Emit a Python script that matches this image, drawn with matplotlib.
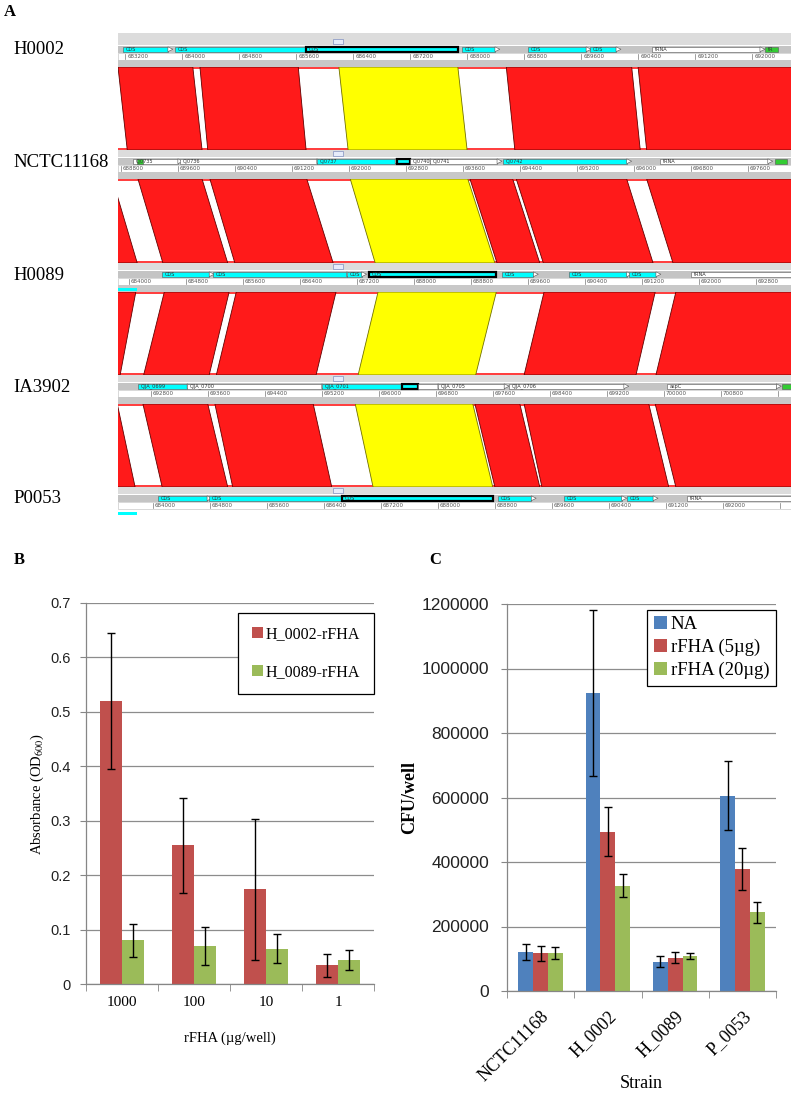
import matplotlib
matplotlib.use("Agg")
import matplotlib.pyplot as plt
from matplotlib.patches import Polygon, Rectangle
import numpy as np

plt.rcParams['mathtext.fontset'] = 'stix'
SERIF = 'Liberation Serif'
SANS = 'Liberation Sans'

W, H = 794, 1095

# ---------------- panel A data (ACT comparison around the FHA gene) ----------------
genomes = ["H0002", "NCTC11168", "H0089", "IA3902", "P0053"]
win_start = [683100, 688760, 683850, 692340, 683510]
win_len = 9446

# features: (start, end, kind, label)
feat_H0002 = [(683170, 683800, "cds", "CDS"), (683900, 685740, "cds", "CDS"),
              (685740, 687870, "fha", "CDS"), (687930, 688390, "cds", "CDS"),
              (688850, 689670, "cds", "CDS"), (689720, 690090, "cds", "CDS"),
              (690600, 692110, "orf", "tRNA"), (692180, 692360, "rna", "tR")]
feat_NCTC = [(688970, 689600, "orf", "Cj0735"), (689030, 689110, "rna", ""),
             (689630, 691550, "orf", "Cj0736"), (691550, 692650, "cds", "Cj0737"),
             (692680, 692860, "fha", ""), (692860, 693140, "orf", "Cj0740"),
             (693140, 694080, "orf", "Cj0741"), (694160, 695900, "cds", "Cj0742"),
             (696370, 697880, "orf", "tRNA"), (697980, 698150, "rna", "")]
feat_H0089 = [(684470, 685130, "cds", "CDS"), (685180, 687060, "cds", "CDS"),
              (687060, 687270, "cds", "CDS"), (687370, 689160, "fha", "CDS"),
              (689240, 689680, "cds", "CDS"), (690180, 690990, "cds", "CDS"),
              (691020, 691400, "cds", "CDS"), (691890, 693500, "orf", "tRNA")]
feat_IA3902 = [(692620, 693310, "cds", "CJJA_0699"), (693310, 695200, "orf", "CJJA_0700"),
               (695200, 696330, "cds", "CJJA_0701"), (696330, 696550, "fha", ""),
               (696550, 696830, "orf", ""), (696830, 697760, "orf", "CJJA_0705"),
               (697830, 699440, "orf", "CJJA_0706"), (700050, 701580, "orf", "aspC"),
               (701660, 701900, "rna", "")]
feat_P0053 = [(684070, 684760, "cds", "CDS"), (684790, 686650, "cds", "CDS"),
              (686650, 688770, "fha", "CDS"), (688840, 689310, "cds", "CDS"),
              (689770, 690580, "cds", "CDS"), (690650, 691020, "cds", "CDS"),
              (691500, 693100, "orf", "tRNA")]
features = [feat_H0002, feat_NCTC, feat_H0089, feat_IA3902, feat_P0053]
extra_cds = [None, None, (683600, 684110), None, (683300, 683780)]

# matches: (kind, top_start, top_end, bottom_start, bottom_end)
comp_1 = [("R", 683100, 684150, 688890, 689940), ("R", 684250, 685630, 690020, 691400),
          ("Y", 686200, 687870, 691990, 693660), ("R", 688550, 690310, 694330, 696090),
          ("R", 690400, 692700, 696180, 698480)]
comp_2 = [("R", 687900, 688680, 683350, 684120), ("R", 689040, 689940, 684480, 685390),
          ("R", 690050, 691410, 685490, 686870), ("Y", 692020, 693670, 687460, 689140),
          ("R", 693700, 694300, 689170, 689770), ("R", 694350, 695900, 689820, 691360),
          ("R", 696180, 698500, 691640, 693960)]
comp_3 = [("R", 683300, 684100, 691700, 692370), ("R", 684500, 685410, 692700, 693620),
          ("R", 685510, 686910, 693720, 695120), ("Y", 687500, 689160, 695710, 697360),
          ("R", 689830, 691390, 698040, 699610), ("R", 691680, 694000, 699890, 702210)]
comp_4 = [("R", 691500, 692330, 682700, 683750), ("R", 692690, 693600, 684130, 685050),
          ("R", 693700, 695080, 685120, 686510), ("Y", 695670, 697320, 687090, 688770),
          ("R", 697350, 697980, 688800, 689430), ("R", 698040, 699790, 689460, 691240),
          ("R", 699880, 702210, 691340, 693670)]
comparisons = [comp_1, comp_2, comp_3, comp_4]

# ---------------- panel B data ----------------
b_cats = ["1000", "100", "10", "1"]
b_h0002 = [0.52, 0.255, 0.174, 0.034]
b_h0002_err = [0.125, 0.087, 0.129, 0.021]
b_h0089 = [0.080, 0.069, 0.065, 0.044]
b_h0089_err = [0.030, 0.035, 0.026, 0.019]

# ---------------- panel C data ----------------
c_cats = ["NCTC11168", "H_0002", "H_0089", "P_0053"]
c_na = [120000, 923000, 91000, 606000]
c_na_err = [25000, 257000, 18000, 106000]
c_5 = [117000, 494000, 103000, 378000]
c_5_err = [23000, 75000, 17000, 66000]
c_20 = [117000, 326000, 109000, 244000]
c_20_err = [19000, 36000, 10000, 32500]

RED = '#c0504d'
GREEN = '#9bbb59'
BLUE = '#4f81bd'

fig = plt.figure(figsize=(W / 100, H / 100), dpi=100)

# ---------------- panel A ----------------
track_y = [46, 158, 271, 383, 495]
axA = fig.add_axes([118 / W, 1 - 520 / H, 673 / W, 495 / H])
axA.set_xlim(0, win_len / 1000)
axA.set_ylim(520, 25)
axA.axis('off')

def rel(bp, g):
    return (bp - win_start[g]) / 1000.0

fill = {"R": '#ff1a1a', "Y": '#ffff00'}
edge = {"R": '#600000', "Y": '#707000'}
for j, comp in enumerate(comparisons):
    yt = track_y[j] + 21
    yb = track_y[j + 1] - 8
    axA.plot([0, win_len / 1000], [yt + 1.2, yt + 1.2], color='#ff1a1a', lw=1.2, zorder=1)
    axA.plot([0, win_len / 1000], [yb - 1.2, yb - 1.2], color='#ff1a1a', lw=1.2, zorder=1)
    for kind, ts, te, bs, be in comp:
        poly = Polygon([(rel(ts, j), yt), (rel(te, j), yt), (rel(be, j + 1), yb), (rel(bs, j + 1), yb)],
                       closed=True, facecolor=fill[kind], edgecolor=edge[kind], lw=0.6, zorder=2)
        axA.add_patch(poly)

feat_col = {"cds": '#00ffff', "fha": '#00ffff', "orf": 'white', "rna": '#33cc33'}
for g, y0 in enumerate(track_y):
    span = win_len / 1000
    top_h = 13 if g == 0 else 8
    axA.add_patch(Rectangle((0, y0 - top_h), span, top_h - 1, facecolor='#dcdcdc', edgecolor='none', zorder=3))
    axA.add_patch(Rectangle((0, y0), span, 6.5, facecolor='#c4c4c4', edgecolor='none', zorder=3))
    axA.add_patch(Rectangle((0, y0 + 6.5), span, 7.5, facecolor='white', edgecolor='#bbbbbb', lw=0.4, zorder=3))
    axA.add_patch(Rectangle((0, y0 + 14), span, 7 if g < 4 else 0, facecolor='#c8c8c8', edgecolor='none', zorder=3))
    axA.add_patch(Rectangle((3.02, y0 - 7), 0.14, 5, facecolor='#e6ecfa', edgecolor='#8090c0', lw=0.5, zorder=4))
    for s, e, kind, lab in features[g]:
        x0, x1 = rel(s, g), rel(e, g)
        bold = kind == "fha"
        axA.add_patch(Rectangle((x0, y0 + 0.6), x1 - x0, 5.3, facecolor=feat_col[kind],
                                edgecolor='black' if bold else '#555555', lw=1.6 if bold else 0.4, zorder=4))
        if kind in ("cds", "orf"):
            axA.add_patch(Polygon([(x1, y0 + 0.8), (x1 + 0.07, y0 + 3.25), (x1, y0 + 5.7)], closed=True,
                                  facecolor='white', edgecolor='#555555', lw=0.4, zorder=4))
        if lab:
            axA.text(x0 + 0.04, y0 + 3.4, lab, fontsize=3.6, color='#333333', va='center', ha='left',
                     zorder=5, clip_on=True, family='DejaVu Sans')
    t = (win_start[g] // 800 + 1) * 800
    while t < win_start[g] + win_len:
        xt = rel(t, g)
        axA.plot([xt, xt], [y0 + 7.5, y0 + 13.2], color='#777777', lw=0.5, zorder=5)
        if xt < span - 0.42:
            axA.text(xt + 0.03, y0 + 10.5, str(t), fontsize=4.0, color='#555555', va='center', ha='left',
                     zorder=5, clip_on=True, family='DejaVu Sans')
        t += 800
    if extra_cds[g]:
        s, e = extra_cds[g]
        axA.add_patch(Rectangle((rel(s, g), y0 + 16.5), rel(e, g) - rel(s, g), 3.5,
                                facecolor='#00ffff', edgecolor='none', zorder=5, clip_on=True))
    fig.text(13 / W, 1 - (y0 + 4) / H, genomes[g], fontsize=13.5, family=SERIF, va='center', ha='left')

fig.text(10 / W, 1 - 12 / H, "A", fontsize=12, family=SERIF, weight='bold', va='center', ha='center')
fig.text(19 / W, 1 - 560 / H, "B", fontsize=12, family=SERIF, weight='bold', va='center', ha='center')
fig.text(435 / W, 1 - 560 / H, "C", fontsize=12, family=SERIF, weight='bold', va='center', ha='center')

def style_axes(ax):
    for side in ('top', 'right'):
        ax.spines[side].set_visible(False)
    for side in ('left', 'bottom'):
        ax.spines[side].set_color('#868686')
        ax.spines[side].set_linewidth(0.9)
    ax.yaxis.grid(True, color='#8c8c8c', lw=0.9)
    ax.set_axisbelow(True)
    ax.tick_params(axis='y', direction='out', length=4, color='#868686', pad=7)
    ax.tick_params(axis='x', which='major', length=0, pad=9)
    ax.tick_params(axis='x', which='minor', direction='out', length=5, color='#868686')

# ---------------- panel B ----------------
axB = fig.add_axes([86 / W, 1 - 984 / H, 288 / W, 381 / H])
xb = np.arange(len(b_cats))
axB.bar(xb - 0.15, b_h0002, 0.3, color=RED, label='H_0002-rFHA', zorder=2)
axB.bar(xb + 0.15, b_h0089, 0.3, color=GREEN, label='H_0089-rFHA', zorder=2)
axB.errorbar(xb - 0.15, b_h0002, yerr=b_h0002_err, fmt='none', ecolor='black', elinewidth=1, capsize=3, zorder=3)
axB.errorbar(xb + 0.15, b_h0089, yerr=b_h0089_err, fmt='none', ecolor='black', elinewidth=1, capsize=3, zorder=3)
axB.set_xlim(-0.5, len(b_cats) - 0.5)
axB.set_ylim(0, 0.7)
axB.set_yticks(np.arange(0, 0.71, 0.1))
axB.set_yticklabels(["0", "0.1", "0.2", "0.3", "0.4", "0.5", "0.6", "0.7"], family=SANS, fontsize=10.5, color='#222222')
axB.set_xticks(xb)
axB.set_xticklabels(b_cats, family=SERIF, fontsize=11)
axB.set_xticks(np.arange(len(b_cats) + 1) - 0.5, minor=True)
style_axes(axB)
axB.set_xlabel("rFHA (\u00b5g/well)", family=SERIF, fontsize=10.5, labelpad=16)
axB.set_ylabel("Absorbance (OD$_{600}$)", family=SERIF, fontsize=10.5)
axB.yaxis.set_label_coords(-0.140, 0.5)
legB = axB.legend(loc='upper right', bbox_to_anchor=(1.0, 0.975), prop={'family': SERIF, 'size': 11.5},
                  frameon=True, fancybox=False, framealpha=1, edgecolor='black', handlelength=0.7,
                  handleheight=0.7, handletextpad=0.2, labelspacing=1.4, borderpad=0.85, borderaxespad=0)
legB.get_frame().set_linewidth(0.9)

# ---------------- panel C ----------------
axC = fig.add_axes([507 / W, 1 - 991 / H, 269 / W, 387 / H])
xc = np.arange(len(c_cats))
bw = 0.22
axC.bar(xc - bw, c_na, bw, color=BLUE, label='NA', zorder=2)
axC.bar(xc, c_5, bw, color=RED, label='rFHA (5\u00b5g)', zorder=2)
axC.bar(xc + bw, c_20, bw, color=GREEN, label='rFHA (20\u00b5g)', zorder=2)
for off, vals, errs in ((-bw, c_na, c_na_err), (0, c_5, c_5_err), (bw, c_20, c_20_err)):
    axC.errorbar(xc + off, vals, yerr=errs, fmt='none', ecolor='black', elinewidth=1, capsize=3, zorder=3)
axC.set_xlim(-0.5, len(c_cats) - 0.5)
axC.set_ylim(0, 1200000)
yt = np.arange(0, 1200001, 200000)
axC.set_yticks(yt)
axC.set_yticklabels([str(v) for v in yt], family=SANS, fontsize=12.5, color='#222222')
axC.set_xticks(xc)
axC.set_xticklabels(c_cats, family=SERIF, fontsize=13, rotation=45, ha='right', rotation_mode='anchor')
axC.set_xticks(np.arange(len(c_cats) + 1) - 0.5, minor=True)
style_axes(axC)
axC.tick_params(axis='y', pad=9)
axC.tick_params(axis='x', which='major', pad=12)
axC.set_xlabel("Strain", family=SERIF, fontsize=13)
axC.xaxis.set_label_coords(0.5, -0.218)
axC.set_ylabel("CFU/well", family=SERIF, fontsize=13, weight='bold')
axC.yaxis.set_label_coords(-0.331, 0.5)
legC = axC.legend(loc='upper right', bbox_to_anchor=(1.0, 0.985), prop={'family': SERIF, 'size': 13.5},
                  frameon=True, fancybox=False, framealpha=1, edgecolor='black', handlelength=0.7,
                  handleheight=0.7, handletextpad=0.2, labelspacing=0.3, borderpad=0.35, borderaxespad=0)
legC.get_frame().set_linewidth(0.9)

fig.savefig("out.png", dpi=100)
